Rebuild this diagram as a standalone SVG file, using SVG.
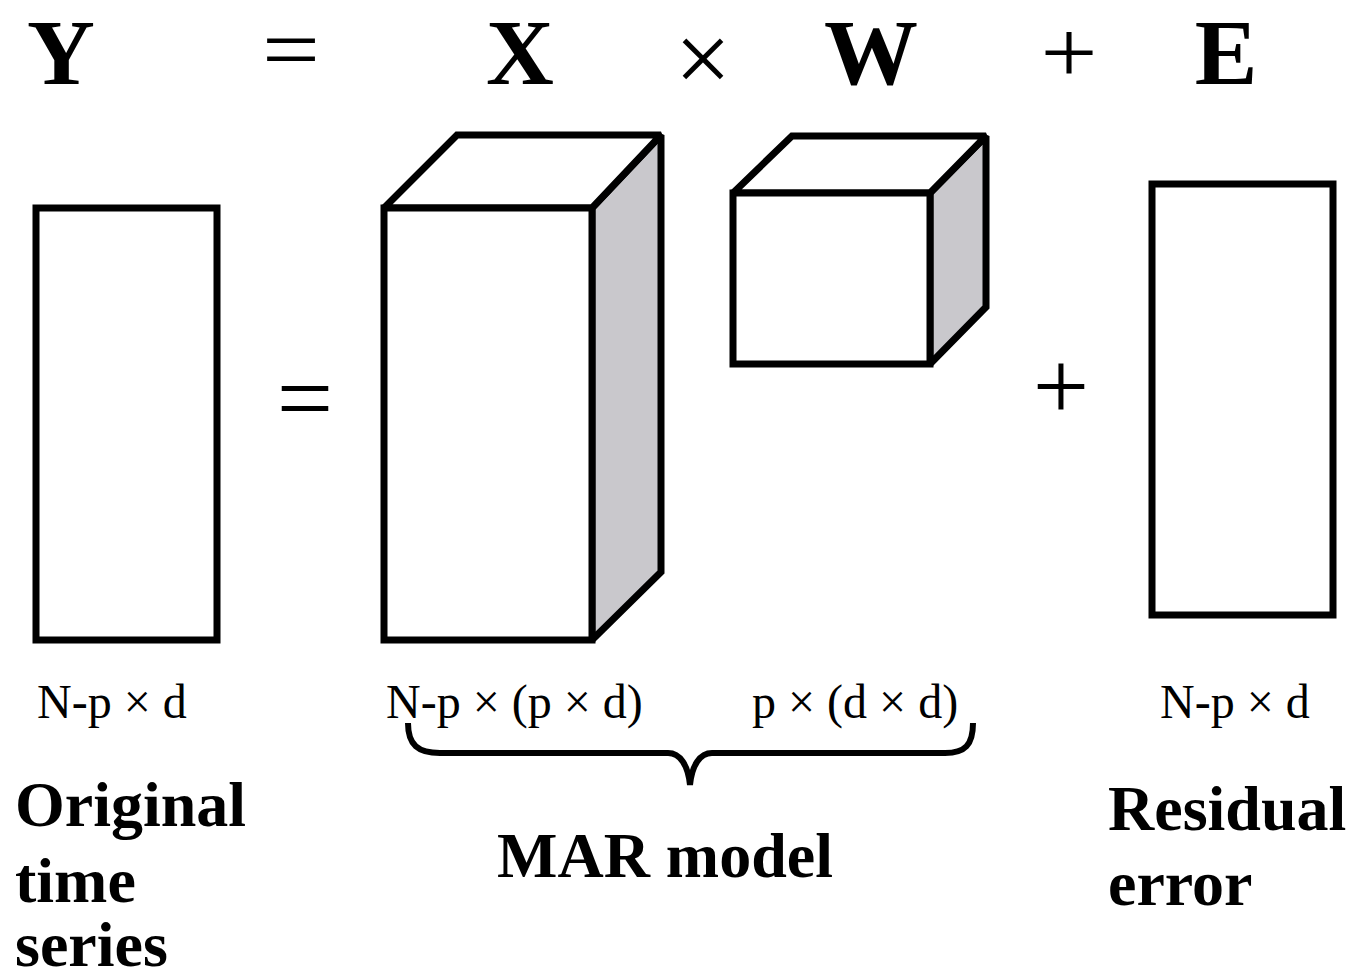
<svg xmlns="http://www.w3.org/2000/svg" width="1351" height="980" viewBox="0 0 1351 980">
<style>
.big{font-family:"Liberation Serif","Times New Roman",serif;font-weight:bold;font-size:94px;fill:#000;text-anchor:middle}
.op{font-family:"Liberation Serif","Times New Roman",serif;font-size:100px;fill:#000;text-anchor:middle}
.top{font-family:"Liberation Serif","Times New Roman",serif;font-size:88px;fill:#000;text-anchor:middle}
.dim{font-family:"Liberation Serif","Times New Roman",serif;font-size:48px;fill:#000}
.lab{font-family:"Liberation Serif","Times New Roman",serif;font-weight:bold;font-size:64px;fill:#000}
.edge{stroke:#000;stroke-width:7;stroke-linejoin:miter;stroke-miterlimit:2}
</style>
<rect width="1351" height="980" fill="#fff"/>
<g id="equation">
<text class="big" x="61" y="84">Y</text>
<text class="top" x="291" y="79" textLength="58" lengthAdjust="spacingAndGlyphs">=</text>
<text class="big" x="520" y="84">X</text>
<text class="op" x="703" y="92">×</text>
<text class="big" x="871" y="84">W</text>
<text class="top" x="1069" y="82" textLength="57" lengthAdjust="spacingAndGlyphs">+</text>
<text class="big" x="1226" y="84">E</text>
</g>
<g id="Y-matrix">
<rect class="edge" x="36" y="208" width="181" height="432" fill="#fff"/>
</g>
<g id="eq2">
<text class="op" x="305" y="432">=</text>
</g>
<g id="X-matrix">
<polygon class="edge" points="592,208 661,135 661,572 592,640" fill="#c9c8cc"/>
<polygon class="edge" points="384,208 457,135 661,135 592,208" fill="#fff"/>
<rect class="edge" x="384" y="208" width="208" height="432" fill="#fff"/>
</g>
<g id="W-matrix">
<polygon class="edge" points="930,193 986,136 986,307 930,364" fill="#c9c8cc"/>
<polygon class="edge" points="733,193 792,136 986,136 930,193" fill="#fff"/>
<rect class="edge" x="733" y="193" width="197" height="171" fill="#fff"/>
</g>
<g id="plus2">
<text class="op" x="1061" y="420">+</text>
</g>
<g id="E-matrix">
<rect class="edge" x="1152" y="184" width="181" height="431" fill="#fff"/>
</g>
<g id="dims">
<text class="dim" x="37" y="718">N-p × d</text>
<text class="dim" x="386" y="718">N-p × (p × d)</text>
<text class="dim" x="752" y="718">p × (d × d)</text>
<text class="dim" x="1160" y="718">N-p × d</text>
</g>
<g id="connectors">
<path d="M408,723 C408,745 418,753 440,753 L668,753 C680,753 688,765 690,785 C692,765 700,753 712,753 L945,753 C965,753 973,745 973,723" fill="none" stroke="#000" stroke-width="6"/>
</g>
<g id="labels">
<text class="lab" x="15" y="826">Original</text>
<text class="lab" x="15" y="902">time</text>
<text class="lab" x="15" y="966">series</text>
<text class="lab" x="497" y="877">MAR model</text>
<text class="lab" x="1108" y="830">Residual</text>
<text class="lab" x="1108" y="905">error</text>
</g>
</svg>
